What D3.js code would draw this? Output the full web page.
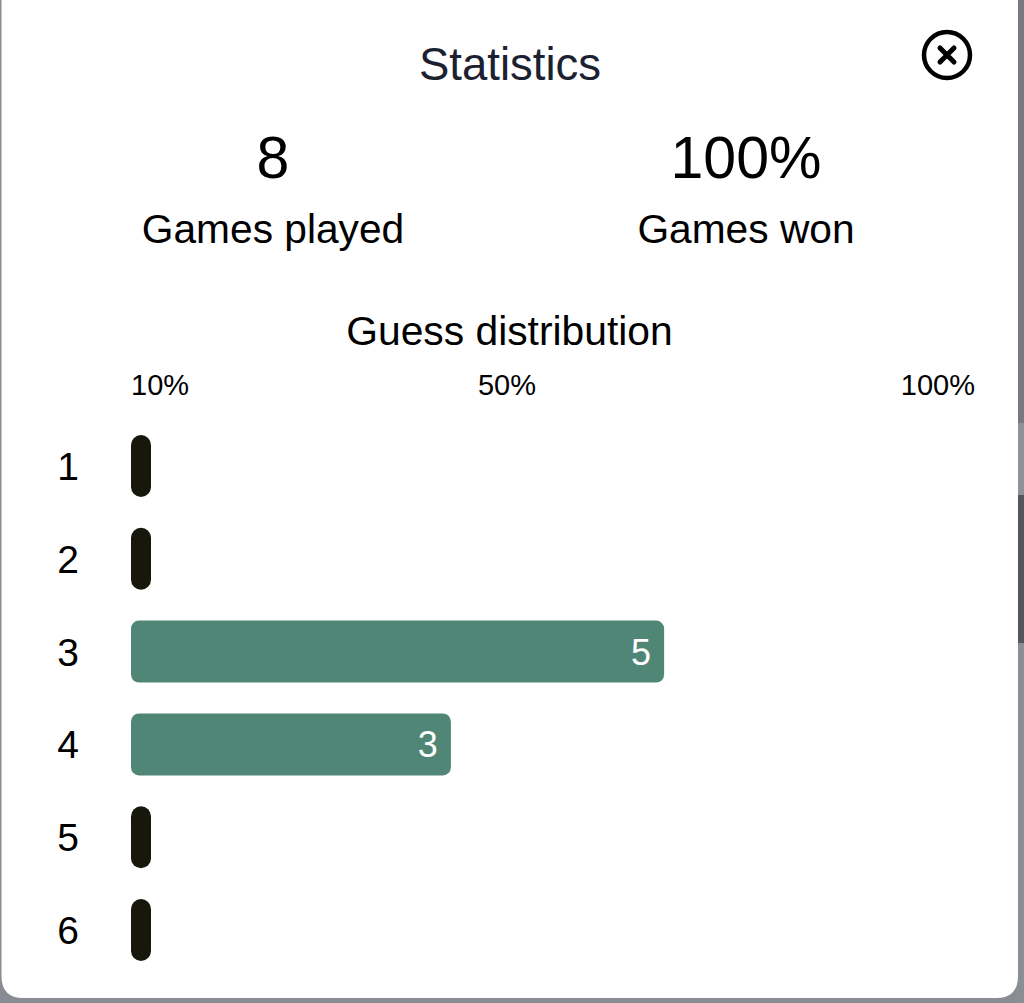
<!DOCTYPE html>
<html>
<head>
<meta charset="utf-8">
<script src="https://cdn.jsdelivr.net/npm/d3@7"></script>
<style>
  html, body { margin: 0; padding: 0; background: #8a8d93; }
  svg { display: block; font-family: "Liberation Sans", Arial, sans-serif; }
</style>
</head>
<body>
<script>
var width = 1024,
  height = 1003;

// data
var guesses = ['1', '2', '3', '4', '5', '6'];
var counts = [0, 0, 5, 3, 0, 0];
var gamesPlayed = 8;
var winPct = 100;
var tickLabels = ['10%', '50%', '100%'];

var svg = d3.select('body').append('svg')
  .attr('width', width)
  .attr('height', height);

// backdrop behind the dialog (page showing through at the edges)
svg.append('rect').attr('width', width).attr('height', height).attr('fill', '#898c92');
var strips = [[0, 423, '#77797f'], [423, 495, '#8e9197'], [495, 643, '#53575d'], [643, 1003, '#8b8e94']];
svg.selectAll('.strip').data(strips).enter().append('rect')
  .attr('x', 1016).attr('width', 8)
  .attr('y', function (d) { return d[0]; })
  .attr('height', function (d) { return d[1] - d[0]; })
  .attr('fill', function (d) { return d[2]; });

// dialog
var L = 1.5, R = 1018, B = 998, r = 22;
svg.append('path')
  .attr('d', 'M' + L + ',-10 L' + R + ',-10 L' + R + ',' + (B - r) +
    ' Q' + R + ',' + B + ' ' + (R - r) + ',' + B +
    ' L' + (L + r) + ',' + B + ' Q' + L + ',' + B + ' ' + L + ',' + (B - r) + ' Z')
  .attr('fill', '#ffffff');

svg.append('text')
  .attr('x', 510).attr('y', 80)
  .attr('text-anchor', 'middle')
  .attr('font-size', 45.5)
  .attr('fill', '#1b2131')
  .text('Statistics');

// close button
var close = svg.append('g').attr('transform', 'translate(947,55)');
close.append('circle').attr('r', 23).attr('fill', 'none').attr('stroke', '#000').attr('stroke-width', 4.5);
close.append('path').attr('d', 'M-7,-7L7,7M7,-7L-7,7')
  .attr('stroke', '#000').attr('stroke-width', 5).attr('stroke-linecap', 'round');

// summary numbers
var stats = [
  { value: String(gamesPlayed), label: 'Games played', cx: 273 },
  { value: winPct + '%', label: 'Games won', cx: 746 }
];
var st = svg.selectAll('.stat').data(stats).enter().append('g').attr('class', 'stat');
st.append('text')
  .attr('x', function (d) { return d.cx; }).attr('y', 178)
  .attr('text-anchor', 'middle').attr('font-size', 59).attr('fill', '#000')
  .text(function (d) { return d.value; });
st.append('text')
  .attr('x', function (d) { return d.cx; }).attr('y', 243)
  .attr('text-anchor', 'middle').attr('font-size', 40.7).attr('fill', '#000')
  .text(function (d) { return d.label; });

svg.append('text')
  .attr('x', 509.5).attr('y', 345)
  .attr('text-anchor', 'middle').attr('font-size', 40.8).attr('fill', '#000')
  .text('Guess distribution');

// scales
var x = d3.scaleLinear().domain([0, 1]).range([131, 984]);
var y = d3.scaleBand().domain(guesses).range([435, 961]).paddingInner(0.332).paddingOuter(0);
var total = d3.sum(counts);

// percentage labels above the bars
var tickPos = d3.scaleLinear().domain([0, 1]).range([131, 975]);
var tickAt = [0, 0.4455, 1];
var anchors = ['start', 'middle', 'end'];
svg.selectAll('.tick').data(tickLabels).enter().append('text')
  .attr('class', 'tick')
  .attr('x', function (d, i) { return tickPos(tickAt[i]); })
  .attr('y', 395)
  .attr('text-anchor', function (d, i) { return anchors[i]; })
  .attr('font-size', 29).attr('fill', '#000')
  .text(function (d) { return d; });

var rows = svg.selectAll('.row').data(guesses).enter().append('g').attr('class', 'row');

rows.append('text')
  .attr('x', 68)
  .attr('y', function (d) { return y(d) + y.bandwidth() / 2 + 14; })
  .attr('text-anchor', 'middle').attr('font-size', 39).attr('fill', '#000')
  .text(function (d) { return d; });

rows.append('rect')
  .attr('x', x(0))
  .attr('y', function (d) { return y(d); })
  .attr('height', y.bandwidth())
  .attr('width', function (d, i) { return Math.max(x(counts[i] / total) - x(0), 20); })
  .attr('rx', function (d, i) { return counts[i] ? 8 : 10; })
  .attr('fill', function (d, i) { return counts[i] ? '#4f8675' : '#18170b'; });

rows.filter(function (d, i) { return counts[i] > 0; }).append('text')
  .attr('x', function (d) { return x(counts[guesses.indexOf(d)] / total) - 13; })
  .attr('y', function (d) { return y(d) + y.bandwidth() / 2 + 13; })
  .attr('text-anchor', 'end').attr('font-size', 36).attr('fill', '#fff')
  .text(function (d) { return counts[guesses.indexOf(d)]; });
</script>
</body>
</html>
